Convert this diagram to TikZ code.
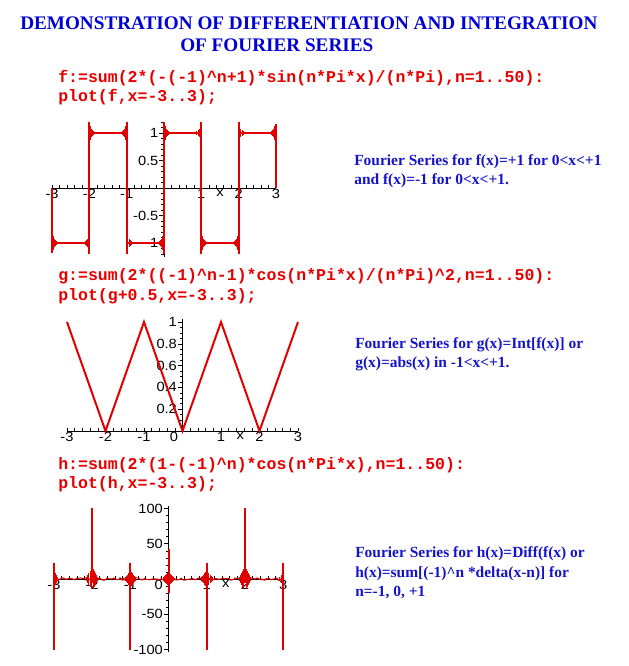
\documentclass[tikz,border=0pt]{standalone}
\usepackage{fontspec}
\setmainfont{Liberation Serif}
\setsansfont{Liberation Sans}
\setmonofont{Liberation Mono}
\newfontfamily\axisfont{Liberation Sans}[FakeStretch=1.1]
\usepackage{tikz}
\usetikzlibrary{decorations.pathmorphing}
\definecolor{titleblue}{RGB}{0,0,210}
\definecolor{noteblue}{RGB}{20,20,200}
\definecolor{maplered}{RGB}{230,0,0}
\definecolor{curvered}{RGB}{225,0,0}

\begin{document}
\begin{tikzpicture}[x=0.75pt, y=-0.75pt,
    headline/.style={anchor=base west, inner sep=0pt, text=titleblue, font=\fontsize{14.4}{16}\selectfont\bfseries},
    maple/.style={anchor=base west, inner sep=0pt, text=maplered, font=\fontsize{12.4}{14}\selectfont\ttfamily\bfseries},
    remark/.style={anchor=base west, inner sep=0pt, text=noteblue, font=\fontsize{11.6}{14}\selectfont\bfseries},
    axisline/.style={black, line width=0.6pt},
    tickmark/.style={black, line width=0.4pt},
    fcurve/.style={curvered, line width=1.5pt},
    ringing/.style={curvered, line width=0.6pt},
    lbl/.style={inner sep=1pt, font=\fontsize{10}{10}\selectfont\axisfont}]

    % Define the page
    \fill[white] (0,0) rectangle (628,666);
    \useasboundingbox (0,0) rectangle (628,666);

    % Define the title
    \node[headline] (title1) at (20,30) {DEMONSTRATION OF DIFFERENTIATION AND INTEGRATION};
    \node[headline] (title2) at (180,52) {OF FOURIER SERIES};

    % Define the Maple input
    \node[maple] (fcode1) at (58,83) {f:=sum(2*(-(-1)\textasciicircum{}n+1)*sin(n*Pi*x)/(n*Pi),n=1..50):};
    \node[maple] (fcode2) at (58,102) {plot(f,x=-3..3);};
    \node[maple] (gcode1) at (58,280) {g:=sum(2*((-1)\textasciicircum{}n-1)*cos(n*Pi*x)/(n*Pi)\textasciicircum{}2,n=1..50):};
    \node[maple] (gcode2) at (58,300) {plot(g+0.5,x=-3..3);};
    \node[maple] (hcode1) at (58,469) {h:=sum(2*(1-(-1)\textasciicircum{}n)*cos(n*Pi*x),n=1..50):};
    \node[maple] (hcode2) at (58,488) {plot(h,x=-3..3);};

    % Define the notes
    \node[remark] (fnote1) at (354,166) {Fourier Series for f(x)=+1 for 0<x<+1};
    \node[remark] (fnote2) at (354,185) {and f(x)=-1 for 0<x<+1.};
    \node[remark] (gnote1) at (355,348) {Fourier Series for g(x)=Int[f(x)] or};
    \node[remark] (gnote2) at (355,367) {g(x)=abs(x) in -1<x<+1.};
    \node[remark] (hnote1) at (355,557) {Fourier Series for h(x)=Diff(f(x) or};
    \node[remark] (hnote2) at (355,577) {h(x)=sum[(-1)\textasciicircum n *delta(x-n)] for};
    \node[remark] (hnote3) at (355,596) {n=-1, 0, +1};

    % Draw the plot of f
    \begin{scope}[shift={(164,188)}, x=27.98pt, y=41.25pt]
        \draw[axisline] (-3,0) -- (3,0);
        \draw[axisline] (0,-1.25) -- (0,1.2);
        \foreach \t in {-3,-2.8,...,3.1} \draw[tickmark] (\t,0) -- ++(0pt,2pt);
        \foreach \t in {-1.2,-1.1,...,1.25} \draw[tickmark] (0,\t) -- ++(-2pt,0pt);
        \foreach \t in {-1,-0.5,0.5,1} \draw[tickmark] (0,\t) -- ++(-3.5pt,0pt);
        \foreach \v [count=\i] in {-3,-2,-1,1,2,3} \node[lbl, anchor=north] (fx\i) at (\v,0) {\v};
        \node[lbl, anchor=north] (fxname) at (1.5,0) {x};
        \foreach \v [count=\i] in {1,0.5,-0.5,-1} \node[lbl, anchor=east, xshift=-3pt] (fy\i) at (0,\v) {\v};
        \draw[fcurve] (-3,0) -- (-3,-1.18);
        \draw[fcurve] (-3,-1) -- (-2,-1) (-2,1) -- (-1,1) (-1,-1) -- (0,-1)
            (0,1) -- (1,1) (1,-1) -- (2,-1) (2,1) -- (3,1);
        \foreach \k in {-2,...,2} \draw[fcurve] (\k,-1.2) -- (\k,1.2);
        \draw[fcurve] (3,1.16) -- (3,0);
        % Gibbs ringing at the jumps
        \foreach \k/\v/\d in {-3/-1/1, -2/-1/-1, -2/1/1, -1/1/-1, -1/-1/1, 0/-1/-1,
            0/1/1, 1/1/-1, 1/-1/1, 2/-1/-1, 2/1/1, 3/1/-1}
            \foreach \j/\a in {1/0.12, 2/0.08, 3/0.05, 4/0.03}
                \draw[ringing] ({\k+\d*0.03*\j},{\v-\a}) -- ({\k+\d*0.03*\j},{\v+\a});
    \end{scope}

    % Draw the plot of g
    \begin{scope}[shift={(182.5,431)}, x=28.875pt, y=81.75pt]
        \draw[axisline] (-3,0) -- (3,0);
        \draw[axisline] (0,0) -- (0,1.03);
        \foreach \t in {-3,-2.8,...,3.1} \draw[tickmark] (\t,0) -- ++(0pt,2pt);
        \foreach \t in {0.05,0.1,...,1.02} \draw[tickmark] (0,\t) -- ++(-2pt,0pt);
        \foreach \t in {0.2,0.4,...,1.01} \draw[tickmark] (0,\t) -- ++(-3.5pt,0pt);
        \foreach \v [count=\i] in {-3,-2,-1,1,2,3} \node[lbl, anchor=north] (gx\i) at (\v,0) {\v};
        \node[lbl, anchor=north] (gxzero) at (-0.22,0) {0};
        \node[lbl, anchor=north] (gxname) at (1.5,0) {x};
        \foreach \v [count=\i] in {1,0.8,0.6,0.4,0.2} \node[lbl, anchor=east, xshift=-3pt] (gy\i) at (0,\v) {\v};
        \draw[fcurve] (-3,1) -- (-2,0) -- (-1,1) -- (0,0) -- (1,1) -- (2,0) -- (3,1);
    \end{scope}

    % Draw the plot of h
    \begin{scope}[shift={(168.5,579)}, x=28.65pt, y=0.529pt]
        \draw[axisline] (-3,0) -- (3,0);
        \draw[axisline] (0,-103) -- (0,103);
        \foreach \t in {-3,-2.8,...,3.1} \draw[tickmark] (\t,0) -- ++(0pt,2pt);
        \foreach \t in {-100,-90,...,100} \draw[tickmark] (0,\t) -- ++(-2pt,0pt);
        \foreach \t in {-100,-50,50,100} \draw[tickmark] (0,\t) -- ++(-3.5pt,0pt);
        \foreach \v [count=\i] in {-3,-2,-1,1,2,3} \node[lbl, anchor=north] (hx\i) at (\v,0) {\v};
        \node[lbl, anchor=north] (hxname) at (1.5,0) {x};
        \foreach \v [count=\i] in {100,50,-50,-100} \node[lbl, anchor=east, xshift=-3pt] (hy\i) at (0,\v) {\v};
        \node[lbl, anchor=east, xshift=-3pt] (hyzero) at (0,-9) {0};
        \pgfmathsetseed{7}
        \draw[curvered, line width=0.8pt, decorate, decoration={random steps, segment length=1.5pt, amplitude=0.9pt}]
            (-3,0) -- (3,0);
        \foreach \k/\up/\dn in {-3/22/-100, -2/100/-6, -1/22/-100, 0/43/-20, 1/22/-100, 2/100/-6, 3/22/-100}
            \draw[fcurve] (\k,\up) -- (\k,\dn);
        % Ringing round the spikes
        \foreach \k/\h in {-2/14, 2/14, -1/10, 1/10, 0/9}
            \foreach \j/\f in {1/1, 2/0.8, 3/0.6, 4/0.4, 5/0.25}
                \draw[ringing] ({\k-0.028*\j},{-\h*\f}) -- ({\k-0.028*\j},{\h*\f})
                    ({\k+0.028*\j},{-\h*\f}) -- ({\k+0.028*\j},{\h*\f});
        \foreach \k/\d in {-3/1, 3/-1}
            \foreach \j/\f in {1/1, 2/0.6, 3/0.3}
                \draw[ringing] ({\k+\d*0.028*\j},{-9*\f}) -- ({\k+\d*0.028*\j},{9*\f});
    \end{scope}
\end{tikzpicture}
\end{document}
